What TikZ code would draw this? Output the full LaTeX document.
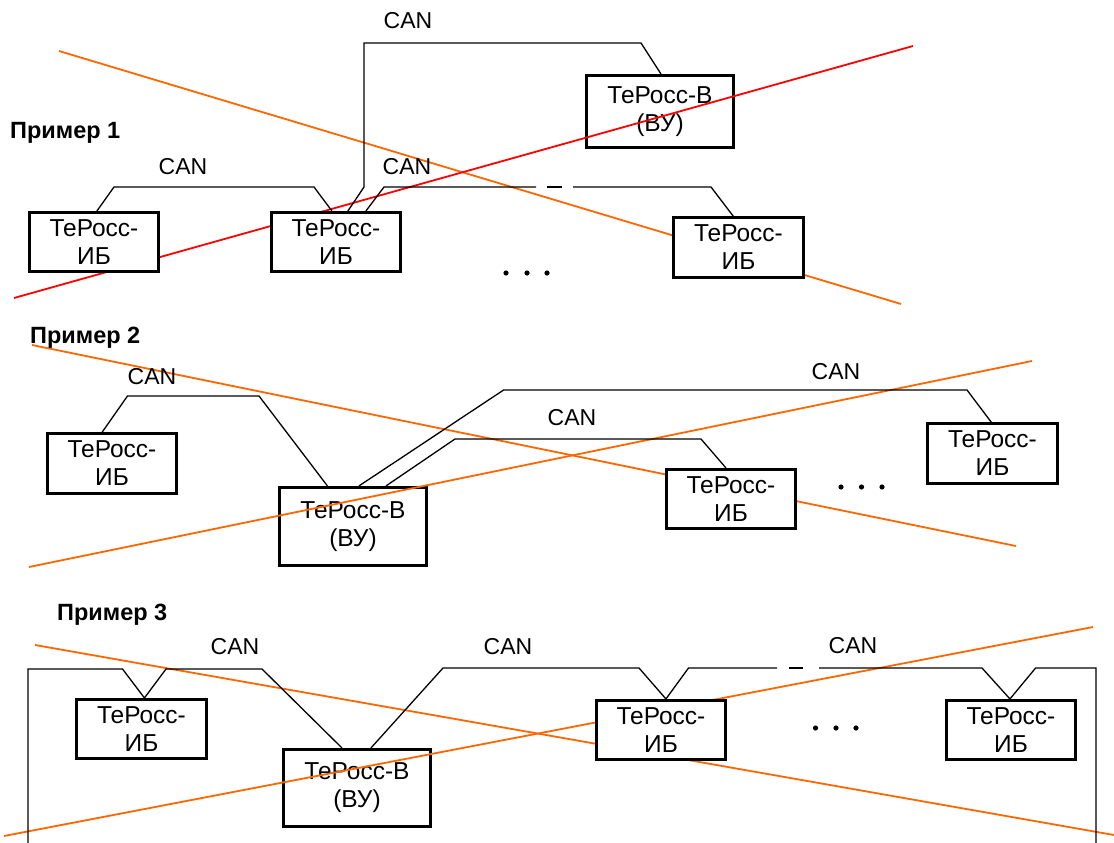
\documentclass[tikz,border=0pt]{standalone}
\usepackage{fontspec}
\setmainfont{Liberation Sans}
\usetikzlibrary{calc}
\definecolor{xorange}{HTML}{FF6600}
\definecolor{xred}{HTML}{FF0000}
\begin{document}
\begin{tikzpicture}[x=1pt,y=-1pt,
  box/.style={draw, line width=2.6pt, fill=white, align=center, inner sep=0pt,
    font=\fontsize{24.5}{28}\selectfont},
  ib/.style={box, minimum width=129.5pt, minimum height=59.5pt},
  vu/.style={box, minimum width=147.5pt},
  lbl/.style={inner sep=0pt, font=\fontsize{23}{27}\selectfont},
  ttl/.style={inner sep=0pt, anchor=base west, font=\fontsize{23.5}{27}\selectfont\bfseries},
  bus/.style={line width=1.3pt, line join=miter},
  crossline/.style={line width=1.8pt, draw=xorange},
  crossred/.style={line width=1.8pt, draw=xred},
  bdot/.style={fill=black}
]
\useasboundingbox (0,0) rectangle (1114,843);

% ---------- VU nodes (below the crossing lines)
\node[vu, minimum height=72.5pt] (av) at (660,111.5) {ТеРосс-В\\(ВУ)};
\node[vu, minimum height=78.5pt] (bv) at (353,526.5) {ТеРосс-В\\(ВУ)};
\node[vu, minimum height=77.5pt] (cv) at (357,788) {ТеРосс-В\\(ВУ)};

% ---------- crossing lines
\coordinate (r1a) at (14,298);  \coordinate (r1b) at (913,46);
\coordinate (o1a) at (59,51);   \coordinate (o1b) at (901,304);
\coordinate (o2a) at (32,345);  \coordinate (o2b) at (1016,546);
\coordinate (o3a) at (29,567);  \coordinate (o3b) at (1032,361);
\coordinate (o4a) at (35,645);  \coordinate (o4b) at (1114,835);
\coordinate (o5a) at (4,836);   \coordinate (o5b) at (1093,627);
\draw[crossline] (o1a) -- (o1b);
\draw[crossred] (r1a) -- (r1b);
\draw[crossline] (o2a) -- (o2b);
\draw[crossline] (o3a) -- (o3b);
\draw[crossline] (o4a) -- (o4b);
\draw[crossline] (o5a) -- (o5b);

% ---------- IB nodes
\node[ib] (a1) at (94,242) {ТеРосс-\\ИБ};
\node[ib] (a2) at (336,242) {ТеРосс-\\ИБ};
\node[ib] (a3) at (738.5,247.5) {ТеРосс-\\ИБ};
\node[ib] (b1) at (112,463.5) {ТеРосс-\\ИБ};
\node[ib] (b2) at (731,499) {ТеРосс-\\ИБ};
\node[ib] (b3) at (992.5,453.5) {ТеРосс-\\ИБ};
\node[ib] (c1) at (141.5,729) {ТеРосс-\\ИБ};
\node[ib] (c2) at (661,730) {ТеРосс-\\ИБ};
\node[ib] (c3) at (1011,730) {ТеРосс-\\ИБ};

% ---------- titles
\node[ttl] (t1) at (10,138) {Пример 1};
\node[ttl] (t2) at (30,343) {Пример 2};
\node[ttl] (t3) at (57,620) {Пример 3};

% ---------- CAN labels
\node[lbl] (k1) at (408,21) {CAN};
\node[lbl] (k2) at (183,167) {CAN};
\node[lbl] (k3) at (407,167) {CAN};
\node[lbl] (k4) at (152,377) {CAN};
\node[lbl] (k5) at (572,418) {CAN};
\node[lbl] (k6) at (836,372) {CAN};
\node[lbl] (k7) at (235,647) {CAN};
\node[lbl] (k8) at (508,647) {CAN};
\node[lbl] (k9) at (853,646) {CAN};

% ---------- Example 1 buses
\draw[bus] ([xshift=69pt]a1.north west) -- (114,187) -- (314,187) -- ([xshift=62pt]a2.north west);
\draw[bus] ([xshift=78pt]a2.north west) -- (364,187) -- (364,43) -- (641,43) -- ([xshift=76pt]av.north west);
\coordinate (d1a) at (536,187); \coordinate (d1b) at (547,187);
\coordinate (d1c) at (562,187); \coordinate (d1d) at (573,187);
\draw[bus] ([xshift=96pt]a2.north west) -- (384,187) -- (d1a);
\draw[bus] (d1b) -- (d1c);
\draw[bus] (d1d) -- (711,187) -- ([xshift=61pt]a3.north west);

% ---------- Example 2 buses
\draw[bus] ([xshift=56pt]b1.north west) -- (127.5,396) -- (259,396) -- ([xshift=49.5pt]bv.north west);
\draw[bus] ([xshift=81pt]bv.north west) -- (503.6,390) -- (967,390) -- ([xshift=65pt]b3.north west);
\draw[bus] ([xshift=108pt]bv.north west) -- (455,439) -- (701,439) -- ([xshift=61pt]b2.north west);

% ---------- Example 3 ring
\coordinate (e1) at (28,843);
\coordinate (e2) at (1096,843);
\coordinate (d3a) at (777,668); \coordinate (d3b) at (789,668);
\coordinate (d3c) at (803,668); \coordinate (d3d) at (819,668);
\draw[bus] (e1) -- (28,669) -- (122.5,669) -- ([xshift=69pt]c1.north west) -- (166,669) -- (262,669) -- ([xshift=60pt]cv.north west);
\draw[bus] ([xshift=89pt]cv.north west) -- (443,668) -- (639,668) -- ([xshift=71pt]c2.north west) -- (688.5,668) -- (d3a);
\draw[bus] (d3b) -- (d3c);
\draw[bus] (d3d) -- (982,668) -- ([xshift=65pt]c3.north west) -- (1035.6,668) -- (1096,668) -- (e2);

% ---------- ellipsis dots
\foreach \x in {506,527,547} \fill[bdot] (\x,273) circle[radius=2.6pt];
\foreach \x in {841,861.5,882} \fill[bdot] (\x,487) circle[radius=2.6pt];
\foreach \x in {815.5,836,856} \fill[bdot] (\x,728) circle[radius=2.6pt];
\end{tikzpicture}
\end{document}
